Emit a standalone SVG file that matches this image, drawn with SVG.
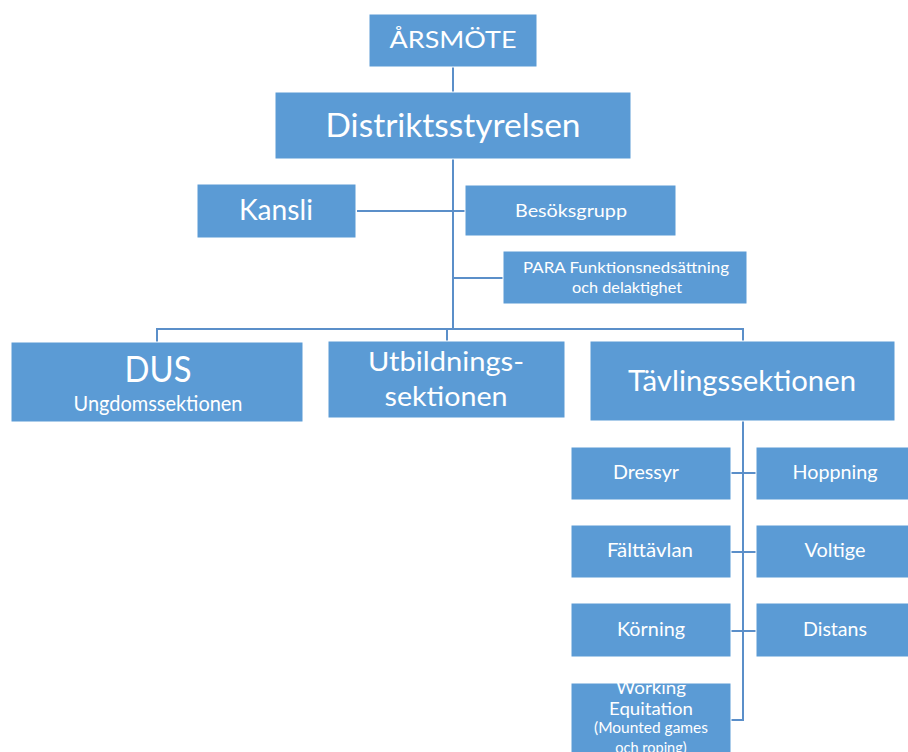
<svg xmlns="http://www.w3.org/2000/svg" width="908" height="752" viewBox="0 0 908 752">
<defs>
<style>
.box{fill:#5B9BD5;stroke:#ffffff;stroke-width:1}
.t{fill:#ffffff;font-family:Lato,"Open Sans","Liberation Sans",sans-serif;text-anchor:middle}
.c{fill:none;stroke:#5B8FC9;stroke-width:2}
</style>
<clipPath id="clipWE"><rect x="571" y="683" width="160" height="80"/></clipPath>
</defs>
<rect width="908" height="752" fill="#ffffff"/>
<g id="connectors">
<path class="c" d="M453 67V92"/>
<path class="c" d="M453 159V329"/>
<path class="c" d="M357 211H465"/>
<path class="c" d="M453 278H503"/>
<path class="c" d="M157 342V329H743V341"/>
<path class="c" d="M447 329V341"/>
<path class="c" d="M743 421V720H731"/>
<path class="c" d="M731 473H756"/>
<path class="c" d="M731 552H756"/>
<path class="c" d="M731 631H756"/>
</g>
<g id="arsmote">
<rect class="box" x="369" y="14" width="168" height="53"/>
<text class="t" x="453" y="48" font-size="23" textLength="127" lengthAdjust="spacingAndGlyphs">ÅRSMÖTE</text>
</g>
<g id="distriktsstyrelsen">
<rect class="box" x="275" y="92" width="356" height="67"/>
<text class="t" x="453" y="137" font-size="33" textLength="255" lengthAdjust="spacingAndGlyphs">Distriktsstyrelsen</text>
</g>
<g id="kansli">
<rect class="box" x="197" y="184" width="159" height="54"/>
<text class="t" x="276" y="220" font-size="28" textLength="74" lengthAdjust="spacingAndGlyphs">Kansli</text>
</g>
<g id="besoksgrupp">
<rect class="box" x="465" y="185" width="211" height="51"/>
<text class="t" x="571" y="217" font-size="17.5" textLength="112" lengthAdjust="spacingAndGlyphs">Besöksgrupp</text>
</g>
<g id="para">
<rect class="box" x="503" y="251" width="244" height="53"/>
<text class="t" x="626" y="273" font-size="16" textLength="206" lengthAdjust="spacingAndGlyphs">PARA Funktionsnedsättning</text>
<text class="t" x="627" y="293" font-size="16" textLength="110" lengthAdjust="spacingAndGlyphs">och delaktighet</text>
</g>
<g id="dus">
<rect class="box" x="11" y="342" width="292" height="80"/>
<text class="t" x="158" y="382" font-size="37" textLength="67" lengthAdjust="spacingAndGlyphs">DUS</text>
<text class="t" x="158" y="411" font-size="22" textLength="169" lengthAdjust="spacingAndGlyphs">Ungdomssektionen</text>
</g>
<g id="utbildningssektionen">
<rect class="box" x="328" y="341" width="237" height="77"/>
<text class="t" x="446" y="371" font-size="26.5" textLength="156" lengthAdjust="spacingAndGlyphs">Utbildnings-</text>
<text class="t" x="446" y="406" font-size="26.5" textLength="123" lengthAdjust="spacingAndGlyphs">sektionen</text>
</g>
<g id="tavlingssektionen">
<rect class="box" x="590" y="341" width="305" height="80"/>
<text class="t" x="742" y="391" font-size="29" textLength="228" lengthAdjust="spacingAndGlyphs">Tävlingssektionen</text>
</g>
<g id="dressyr">
<rect class="box" x="571" y="447" width="160" height="53"/>
<text class="t" x="646" y="479" font-size="20" textLength="66" lengthAdjust="spacingAndGlyphs">Dressyr</text>
</g>
<g id="hoppning">
<rect class="box" x="756" y="447" width="160" height="53"/>
<text class="t" x="835" y="479" font-size="20" textLength="85" lengthAdjust="spacingAndGlyphs">Hoppning</text>
</g>
<g id="falttavlan">
<rect class="box" x="571" y="525" width="160" height="53"/>
<text class="t" x="650" y="557" font-size="20" textLength="86" lengthAdjust="spacingAndGlyphs">Fälttävlan</text>
</g>
<g id="voltige">
<rect class="box" x="756" y="525" width="160" height="53"/>
<text class="t" x="835" y="557" font-size="20" textLength="61" lengthAdjust="spacingAndGlyphs">Voltige</text>
</g>
<g id="korning">
<rect class="box" x="571" y="603" width="160" height="54"/>
<text class="t" x="651" y="636" font-size="20" textLength="68" lengthAdjust="spacingAndGlyphs">Körning</text>
</g>
<g id="distans">
<rect class="box" x="756" y="603" width="160" height="54"/>
<text class="t" x="835" y="636" font-size="20" textLength="64" lengthAdjust="spacingAndGlyphs">Distans</text>
</g>
<g id="working-equitation">
<rect class="box" x="571" y="683" width="160" height="80"/>
<g clip-path="url(#clipWE)">
<text class="t" x="651" y="694" font-size="17" textLength="70" lengthAdjust="spacingAndGlyphs">Working</text>
<text class="t" x="651" y="715" font-size="17" textLength="84" lengthAdjust="spacingAndGlyphs">Equitation</text>
<text class="t" x="651" y="733" font-size="14.5" textLength="114" lengthAdjust="spacingAndGlyphs">(Mounted games</text>
<text class="t" x="651" y="753" font-size="14.5">och roping)</text>
</g>
</g>
</svg>
